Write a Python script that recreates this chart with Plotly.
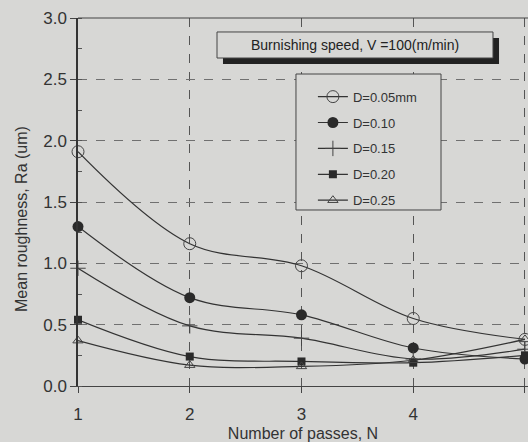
import plotly.graph_objects as go

passes = [1, 2, 3, 4, 5]
series_names = ["D=0.05mm", "D=0.10", "D=0.15", "D=0.20", "D=0.25"]
ra_d005 = [1.91, 1.16, 0.98, 0.55, 0.38]
ra_d010 = [1.30, 0.72, 0.58, 0.31, 0.22]
ra_d015 = [0.96, 0.49, 0.39, 0.22, 0.30]
ra_d020 = [0.54, 0.24, 0.20, 0.19, 0.25]
ra_d025 = [0.37, 0.17, 0.16, 0.21, 0.38]
y_ticks = [0.0, 0.5, 1.0, 1.5, 2.0, 2.5, 3.0]
x_ticks = [1, 2, 3, 4, 5]

BG = "#d7d7d5"
INK = "#333333"
FONT = "Liberation Sans, Arial, sans-serif"

styles = [
    dict(symbol="circle-open", size=12, line=dict(width=1, color="#555")),
    dict(symbol="circle", size=11, color="#2a2a2a"),
    dict(symbol="cross-thin-open", size=11, line=dict(width=1, color="#333")),
    dict(symbol="square", size=8, color="#2a2a2a"),
    dict(symbol="triangle-up-open", size=9, line=dict(width=1, color="#444")),
]
data = [ra_d005, ra_d010, ra_d015, ra_d020, ra_d025]

fig = go.Figure()
for i, (name, ys, mk) in enumerate(zip(series_names, data, styles)):
    mk = dict(mk)
    mk.setdefault("color", "#444")
    fig.add_trace(go.Scatter(
        x=passes, y=ys, name=name, mode="lines+markers",
        line=dict(color=INK, width=1.2, shape="spline", smoothing=1),
        marker=mk, cliponaxis=False, legendgroup=f"g{i}",
    ))

fig.update_layout(
    width=528, height=442,
    margin=dict(l=78, r=0, t=18, b=56),
    paper_bgcolor=BG, plot_bgcolor=BG,
    font=dict(family=FONT, color=INK, size=17),
    showlegend=True,
    legend=dict(
        x=0.522, y=0.827, xanchor="left", yanchor="top",
        bgcolor="rgba(0,0,0,0)", borderwidth=0,
        font=dict(size=13, color=INK),
        traceorder="grouped", tracegroupgap=6,
    ),
    xaxis=dict(
        range=[1, 5.027], tickvals=x_ticks, ticktext=[str(v) for v in x_ticks],
        showgrid=True, gridcolor="#555", griddash="dash", gridwidth=1,
        showline=True, linecolor="#444", linewidth=1.2,
        ticks="outside", ticklen=6, tickcolor="#444",
        ticklabelstandoff=6, zeroline=False,
        title=dict(text="Number of passes, N", standoff=5, font=dict(size=16)),
    ),
    yaxis=dict(
        range=[0, 3.0], tickvals=y_ticks, ticktext=[f"{v:.1f}" for v in y_ticks],
        showgrid=True, gridcolor="#707070", griddash="dash", gridwidth=1,
        showline=True, linecolor="#333", linewidth=1.5,
        ticks="outside", ticklen=6, tickcolor="#444",
        minor=dict(ticks="inside", ticklen=4, dtick=0.25, tickcolor="#555", showgrid=False),
        zeroline=False,
    ),
)

# y-axis title placed as annotation (slightly below plot centre as in reference)
fig.add_annotation(xref="paper", yref="paper", x=-0.1267, y=0.4538,
                   text="Mean roughness, Ra (um)", textangle=-90, showarrow=False,
                   font=dict(size=16, color=INK), xanchor="center", yanchor="middle")

# top border line at 3.0
fig.add_shape(type="line", xref="paper", yref="paper", x0=0, x1=1, y0=1, y1=1,
              line=dict(color="#444", width=1.2), layer="above")

# legend frame
fig.add_shape(type="rect", xref="paper", yref="paper",
              x0=0.4844, x1=0.8067, y0=0.4783, y1=0.8478,
              fillcolor=BG, line=dict(color="#444", width=1), layer="above")

# title box with shadow
fig.add_shape(type="rect", xref="paper", yref="paper",
              x0=0.3222, x1=0.9356, y0=0.875, y1=0.9457,
              fillcolor="#222", line=dict(width=0), layer="above")
fig.add_shape(type="rect", xref="paper", yref="paper",
              x0=0.3089, x1=0.9222, y0=0.8913, y1=0.9620,
              fillcolor=BG, line=dict(color="#444", width=1), layer="above")
fig.add_annotation(xref="paper", yref="paper", x=(0.3089 + 0.9222) / 2, y=(0.8913 + 0.9620) / 2,
                   text="Burnishing speed, V =100(m/min)", showarrow=False,
                   font=dict(size=14, color="#222"), xanchor="center", yanchor="middle")

fig.write_html("out.html")
